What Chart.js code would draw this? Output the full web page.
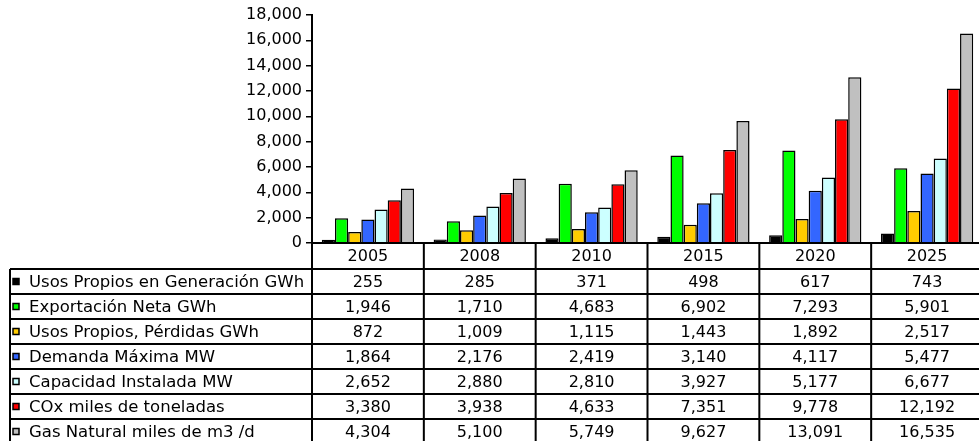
<!DOCTYPE html>
<html>
<head>
<meta charset="utf-8">
<script src="https://cdn.jsdelivr.net/npm/chart.js@4/dist/chart.umd.min.js"></script>
<style>
  html, body { margin: 0; padding: 0; background: #fff; overflow: hidden; }
  #wrap { width: 988px; height: 441px; }
</style>
</head>
<body>
<div id="wrap"><canvas id="c" width="988" height="441"></canvas></div>
<script>
// Years shown on the category axis and in the table header
const years = ['2005', '2008', '2010', '2015', '2020', '2025'];

// Series names (table row labels)
const seriesNames = [
  'Usos Propios en Generación GWh',
  'Exportación Neta GWh',
  'Usos Propios, Pérdidas GWh',
  'Demanda Máxima MW',
  'Capacidad Instalada MW',
  'COx miles de toneladas',
  'Gas Natural miles de m3 /d'
];

// Series values per year
const usosGeneracion = [255, 285, 371, 498, 617, 743];
const exportacionNeta = [1946, 1710, 4683, 6902, 7293, 5901];
const usosPerdidas = [872, 1009, 1115, 1443, 1892, 2517];
const demandaMaxima = [1864, 2176, 2419, 3140, 4117, 5477];
const capacidadInstalada = [2652, 2880, 2810, 3927, 5177, 6677];
const coxMiles = [3380, 3938, 4633, 7351, 9778, 12192];
const gasNatural = [4304, 5100, 5749, 9627, 13091, 16535];

const seriesValues = [usosGeneracion, exportacionNeta, usosPerdidas, demandaMaxima,
                      capacidadInstalada, coxMiles, gasNatural];
const seriesColors = ['#000000', '#00FF00', '#FFCC00', '#3366FF', '#CCFFFF', '#FF0000', '#C0C0C0'];

// Y axis range
const yMax = 18000;
const yStep = 2000;

const fmt = v => Number(v).toLocaleString('en-US');
const FONT = '"DejaVu Sans", Verdana, sans-serif';

// Draws the data table under the plot: a year header row plus one row per series
const dataTable = {
  id: 'dataTable',
  afterDraw(chart) {
    const { ctx, chartArea } = chart;
    const x = chart.scales.x;
    const left = chartArea.left;
    const right = chartArea.right;
    const colW = (right - left) / years.length;
    const headTop = chartArea.bottom;
    const headH = 26;
    const rowH = 25;
    const tableLeft = 10;
    const bodyTop = headTop + headH;
    const bodyBottom = bodyTop + rowH * seriesNames.length;

    ctx.save();
    ctx.strokeStyle = '#000';
    ctx.lineWidth = 2;

    // horizontal lines
    ctx.beginPath();
    ctx.moveTo(left, headTop); ctx.lineTo(right + 10, headTop);
    for (let r = 0; r <= seriesNames.length; r++) {
      const y = bodyTop + r * rowH;
      ctx.moveTo(tableLeft, y); ctx.lineTo(right + 10, y);
    }
    // vertical lines
    for (let i = 0; i <= years.length; i++) {
      const vx = left + i * colW;
      ctx.moveTo(vx, headTop); ctx.lineTo(vx, bodyBottom);
    }
    ctx.moveTo(tableLeft, bodyTop); ctx.lineTo(tableLeft, bodyBottom);
    ctx.stroke();

    ctx.fillStyle = '#000';
    ctx.font = '16px ' + FONT;
    ctx.textBaseline = 'middle';
    ctx.textAlign = 'center';

    // header row
    years.forEach((yr, i) => {
      ctx.fillText(yr, x.getPixelForValue(i), headTop + headH / 2 + 1);
    });

    // body rows
    seriesNames.forEach((name, r) => {
      const cy = bodyTop + r * rowH + rowH / 2 + 1;
      // legend key
      ctx.fillStyle = seriesColors[r];
      ctx.fillRect(13, cy - 4, 6, 6);
      ctx.lineWidth = 1.5;
      ctx.strokeRect(13, cy - 4, 6, 6);
      ctx.fillStyle = '#000';
      ctx.textAlign = 'left';
      ctx.font = '16.5px ' + FONT;
      ctx.fillText(name, 29, cy);
      ctx.font = '16px ' + FONT;
      ctx.textAlign = 'center';
      seriesValues[r].forEach((v, i) => {
        ctx.fillText(fmt(v), x.getPixelForValue(i), cy);
      });
    });
    ctx.restore();
  }
};

new Chart(document.getElementById('c'), {
  type: 'bar',
  data: {
    labels: years,
    datasets: seriesNames.map((name, i) => ({
      label: name,
      data: seriesValues[i],
      backgroundColor: seriesColors[i],
      borderColor: '#000',
      borderWidth: 1.5,
      borderSkipped: 'bottom',
      categoryPercentage: 0.825,
      barPercentage: 1.0
    }))
  },
  options: {
    responsive: false,
    animation: false,
    layout: { padding: { left: 0, right: 5, top: 15, bottom: 198 } },
    plugins: { legend: { display: false }, tooltip: { enabled: false } },
    scales: {
      x: { display: false },
      y: {
        min: 0,
        max: yMax,
        afterFit(scale) { scale.width = 312; },
        ticks: {
          stepSize: yStep,
          color: '#000',
          padding: 4,
          font: { family: FONT, size: 16 },
          callback: v => fmt(v)
        },
        grid: {
          display: true,
          drawOnChartArea: false,
          drawTicks: true,
          tickLength: 6,
          color: '#000',
          lineWidth: 1.5
        },
        border: { display: true, color: '#000', width: 2 }
      }
    }
  },
  plugins: [dataTable]
});
</script>
</body>
</html>
